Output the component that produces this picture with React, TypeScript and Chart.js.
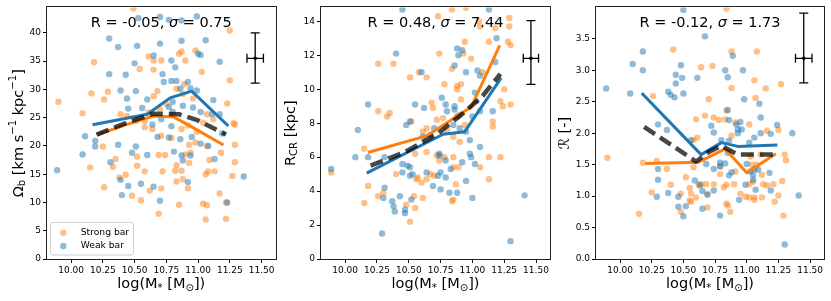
import React, { useEffect, useRef } from 'react';
import { Chart, registerables } from 'chart.js';
Chart.register(...registerables);

const FONT = "'DejaVu Sans', 'Liberation Sans', sans-serif";
const ORANGE = '#ff7f0e';
const BLUE = '#1f77b4';
const ORANGE_A = 'rgba(255,127,14,0.5)';
const BLUE_A = 'rgba(31,119,180,0.5)';

// ---------- tick values / labels ----------
const xTickValues = [10, 10.25, 10.5, 10.75, 11, 11.25, 11.5];
const xTickLabels = ['10.00', '10.25', '10.50', '10.75', '11.00', '11.25', '11.50'];
const omegaTickValues = [0, 5, 10, 15, 20, 25, 30, 35, 40];
const omegaTickLabels = ['0', '5', '10', '15', '20', '25', '30', '35', '40'];
const rcrTickValues = [0, 2, 4, 6, 8, 10, 12, 14];
const rcrTickLabels = ['0', '2', '4', '6', '8', '10', '12', '14'];
const ratioTickValues = [0, 0.5, 1, 1.5, 2, 2.5, 3, 3.5];
const ratioTickLabels = ['0.0', '0.5', '1.0', '1.5', '2.0', '2.5', '3.0', '3.5'];

const legendLabels = ['Strong bar', 'Weak bar'];

// ---------- panel 1 : Omega_b ----------
const omegaStrong: [number, number][] = [
  [9.90, 27.8], [10.18, 34.8], [10.16, 29.3], [10.09, 25.8], [10.26, 28.2], [10.29, 29.6], [10.39, 25.6],
  [10.54, 33.6], [10.61, 35.8], [10.65, 35.1], [10.65, 33.5], [10.71, 35.1], [10.85, 36.3], [10.87, 36.7],
  [10.90, 35.1], [10.98, 36.9], [11.03, 33.1], [11.25, 40.4], [11.25, 31.6], [11.23, 27.5], [10.89, 30.9],
  [10.83, 30.1], [10.88, 29.2], [10.96, 28.4], [10.68, 29.7], [10.65, 28.8], [10.75, 27.4], [10.70, 26.5],
  [10.61, 25.9], [10.58, 24.4], [10.58, 23.3], [10.64, 23.0], [10.51, 24.4], [10.44, 25.3], [10.92, 23.6],
  [10.87, 23.0], [10.71, 21.8], [10.79, 21.4], [10.99, 22.5], [11.07, 25.6], [11.04, 24.1], [11.12, 24.7],
  [11.28, 24.0], [11.29, 23.8], [11.29, 20.2], [10.25, 19.9], [10.93, 20.2], [10.98, 20.6], [11.07, 20.0],
  [10.49, 44.3],
  [10.15, 16.2], [10.26, 12.7], [10.33, 16.3], [10.35, 17.7], [10.38, 14.4], [10.43, 14.9], [10.48, 11.2],
  [10.52, 16.5], [10.52, 18.1], [10.55, 10.4], [10.58, 15.5], [10.62, 12.1], [10.69, 18.4], [10.71, 12.5],
  [10.69, 8.0], [10.72, 15.5], [10.74, 18.4], [10.82, 15.6], [10.83, 16.6], [10.83, 13.7], [10.85, 9.6],
  [10.87, 15.6], [10.88, 14.1], [10.90, 18.5], [10.92, 12.5], [10.93, 17.0], [10.94, 18.8], [11.04, 9.8],
  [11.06, 15.0], [11.07, 9.5], [11.06, 7.0], [11.08, 15.5], [11.09, 17.5], [11.13, 15.5], [11.17, 11.6],
  [11.18, 18.8], [11.22, 10.0], [11.22, 7.1], [11.27, 14.7], [11.29, 17.1],
];
const omegaWeak: [number, number][] = [
  [10.30, 39.0], [10.37, 37.5], [10.52, 37.7], [10.53, 42.6], [10.70, 42.8], [10.77, 42.3], [10.87, 42.2],
  [10.99, 42.9], [10.70, 38.1], [10.87, 38.6], [11.06, 38.7], [11.00, 36.3], [11.02, 36.1], [10.50, 34.6],
  [10.65, 36.0], [10.79, 35.1], [10.82, 33.9], [11.17, 34.9], [10.30, 32.7], [10.43, 32.6], [10.72, 32.7],
  [10.39, 29.8], [10.51, 29.7], [10.73, 31.3], [10.79, 31.5], [10.83, 31.5], [10.92, 31.3], [10.86, 30.1],
  [10.94, 30.2], [10.99, 29.8], [10.44, 28.4], [10.60, 28.2], [10.45, 26.6], [10.56, 26.7], [10.77, 26.9],
  [10.80, 27.8], [10.80, 26.0], [10.88, 27.1], [10.96, 26.8], [11.12, 28.1], [11.02, 26.0], [11.11, 25.6],
  [11.17, 25.6], [10.71, 24.7], [10.64, 23.8], [10.79, 23.5], [10.11, 21.7], [10.19, 20.9], [10.19, 19.9],
  [10.37, 20.2], [10.51, 19.9], [10.68, 21.6], [10.77, 21.5], [10.86, 21.2], [10.95, 21.6], [11.02, 20.4],
  [11.08, 20.0], [11.19, 22.2],
  [9.89, 15.7], [10.09, 18.5], [10.31, 17.1], [10.39, 14.0], [10.40, 11.3], [10.45, 12.9], [10.48, 18.8],
  [10.55, 13.3], [10.60, 18.4], [10.65, 12.8], [10.70, 10.3], [10.81, 19.0], [10.87, 18.3], [10.88, 17.4],
  [10.92, 13.6], [10.94, 18.3], [11.13, 17.7], [11.23, 10.0], [11.36, 14.6],
];
const omegaWeakMedian: [number, number][] = [[10.18, 23.8], [10.60, 25.6], [10.78, 28.5], [10.95, 29.7], [11.23, 23.7]];
const omegaStrongMedian: [number, number][] = [[10.22, 22.1], [10.44, 23.8], [10.65, 25.3], [10.81, 25.1], [10.94, 23.5], [11.19, 20.3]];
const omegaAllMedian: [number, number][] = [[10.20, 22.0], [10.45, 24.2], [10.65, 25.7], [10.85, 25.6], [11.00, 24.5], [11.22, 22.0]];
// [x, y, xerr, yerr up, yerr down]
const omegaErrorBar = [11.45, 35.5, 0.065, 4.5, 4.4];

// ---------- panel 2 : R_CR ----------
const rcrStrong: [number, number][] = [
  [10.15, 6.5], [10.26, 11.5], [10.26, 8.7], [10.33, 8.4], [10.35, 8.6], [10.38, 11.5], [10.52, 8.1],
  [10.58, 11.0], [10.64, 10.7], [10.51, 10.7], [10.61, 7.5], [10.64, 7.7], [10.68, 9.2], [10.69, 8.9],
  [10.72, 8.2], [10.73, 14.3], [10.74, 12.1], [10.77, 8.3], [10.78, 10.3], [10.80, 7.6], [10.84, 14.7],
  [10.84, 11.2], [10.88, 10.2], [10.88, 10.0], [10.91, 10.3], [10.91, 9.4], [10.93, 12.1], [10.94, 12.8],
  [10.99, 11.8], [10.94, 7.9], [10.90, 8.5], [10.85, 7.2], [10.90, 6.9], [11.05, 14.0], [11.06, 13.7],
  [11.08, 11.0], [11.13, 12.8], [11.18, 13.6], [11.29, 14.2], [11.29, 13.7], [11.28, 12.8], [11.30, 12.6],
  [11.25, 10.0], [11.22, 9.3], [11.24, 9.0], [11.30, 9.1], [11.16, 8.1], [11.16, 7.8], [10.95, 14.8],
  [9.89, 5.1], [10.15, 3.3], [10.18, 4.3], [10.26, 3.7], [10.30, 3.9], [10.40, 5.0], [10.48, 3.2],
  [10.51, 2.2], [10.54, 3.7], [10.55, 3.0], [10.55, 6.2], [10.56, 4.7], [10.57, 4.8], [10.60, 4.5],
  [10.61, 3.6], [10.64, 6.3], [10.64, 4.7], [10.67, 5.0], [10.70, 4.9], [10.72, 6.1], [10.74, 5.8],
  [10.78, 6.0], [10.85, 6.0], [10.84, 3.4], [10.85, 3.5], [10.87, 4.4], [10.89, 5.4], [10.85, 5.4],
  [11.06, 5.4], [11.13, 6.0], [11.13, 4.7], [11.22, 6.0],
];
const rcrWeak: [number, number][] = [
  [10.10, 7.6], [10.18, 9.1], [10.40, 12.1], [10.48, 7.9], [10.51, 8.1], [10.55, 9.1], [10.60, 11.0],
  [10.62, 8.9], [10.76, 9.5], [10.79, 9.1], [10.80, 8.7], [10.86, 9.0], [10.86, 8.8], [10.88, 12.4],
  [10.89, 12.0], [10.92, 12.3], [10.86, 11.4], [10.95, 11.0], [10.45, 14.7], [11.13, 14.7], [11.04, 11.1],
  [11.06, 10.8], [11.02, 9.8], [11.03, 9.3], [11.06, 8.7], [11.19, 13.0], [11.18, 11.6], [11.00, 8.4],
  [10.88, 8.4], [10.70, 7.7], [10.85, 7.9], [10.90, 7.7], [10.95, 7.5], [10.67, 7.3], [10.61, 7.2],
  [10.98, 7.0], [11.06, 6.6], [11.16, 8.7],
  [9.89, 5.3], [10.08, 6.0], [10.18, 6.0], [10.29, 1.5], [10.31, 6.0], [10.31, 4.2], [10.30, 3.6],
  [10.37, 3.4], [10.38, 3.1], [10.39, 2.8], [10.43, 3.7], [10.45, 5.6], [10.45, 5.1], [10.47, 2.7],
  [10.47, 2.9], [10.49, 5.5], [10.51, 5.4], [10.51, 4.9], [10.53, 5.0], [10.52, 3.5], [10.64, 5.1],
  [10.69, 4.3], [10.73, 4.9], [10.74, 6.2], [10.74, 6.1], [10.75, 4.1], [10.75, 5.1], [10.79, 5.8],
  [10.79, 4.8], [10.82, 3.9], [10.83, 5.3], [10.88, 3.9], [10.92, 5.7], [10.95, 4.6], [10.98, 6.2],
  [10.99, 6.0], [11.02, 5.6], [11.00, 3.6], [11.30, 1.05], [11.41, 3.75],
];
const rcrWeakMedian: [number, number][] = [[10.18, 5.1], [10.77, 7.35], [10.94, 7.5], [11.22, 10.6]];
const rcrStrongMedian: [number, number][] = [[10.19, 6.3], [10.64, 7.25], [10.99, 8.95], [11.21, 12.5]];
const rcrAllMedian: [number, number][] = [[10.20, 5.5], [10.47, 6.3], [10.73, 7.4], [10.93, 8.6], [11.08, 9.6], [11.22, 10.9]];
const rcrErrorBar = [11.46, 11.82, 0.06, 2.22, 1.53];

// ---------- panel 3 : ratio R ----------
const ratioStrong: [number, number][] = [
  [10.26, 2.59], [10.42, 3.33], [10.64, 3.05], [10.73, 3.07], [10.84, 3.98], [10.88, 3.30], [10.88, 2.72],
  [11.08, 3.30], [11.06, 2.84], [11.07, 2.56], [11.15, 2.71], [11.27, 2.78], [10.70, 2.54], [10.67, 2.28],
  [10.74, 2.25], [10.78, 2.21], [10.83, 2.22], [10.84, 2.36], [10.60, 2.22], [10.61, 1.93], [10.58, 1.89],
  [10.91, 2.17], [11.02, 2.14], [11.16, 2.04], [11.25, 2.05], [10.88, 1.96],
  [9.90, 1.61], [10.15, 0.72], [10.18, 1.53], [10.25, 1.06], [10.29, 1.56], [10.37, 1.43], [10.40, 1.18],
  [10.48, 1.04], [10.48, 0.75], [10.52, 1.30], [10.55, 0.93], [10.55, 1.13], [10.56, 1.04], [10.56, 0.91],
  [10.60, 0.98], [10.62, 1.19], [10.58, 1.46], [10.64, 1.19], [10.68, 1.19], [10.69, 1.04], [10.69, 0.82],
  [10.74, 1.19], [10.79, 1.35], [10.79, 1.48], [10.82, 1.14], [10.84, 1.18], [10.84, 0.88], [10.85, 0.85],
  [10.87, 0.75], [10.90, 1.19], [10.91, 1.39], [10.95, 1.04], [10.99, 0.99], [11.02, 1.19], [11.02, 0.98],
  [11.06, 0.94], [11.04, 1.50], [11.03, 1.63], [11.08, 1.50], [11.06, 0.98], [11.05, 1.23], [11.11, 1.66],
  [11.12, 1.34], [11.13, 1.19], [11.12, 0.98], [11.16, 1.17], [11.21, 1.19], [11.22, 0.91], [11.25, 1.01],
  [11.29, 0.69], [11.28, 1.24], [11.30, 1.66], [11.31, 1.57],
];
const ratioWeak: [number, number][] = [
  [9.89, 2.71], [10.08, 2.63], [10.10, 3.10], [10.18, 3.30], [10.18, 3.00], [10.50, 3.96], [10.67, 3.54],
  [10.48, 3.08], [10.44, 2.93], [10.49, 2.88], [10.44, 2.79], [10.50, 2.63], [10.38, 2.66], [10.40, 2.61],
  [10.43, 2.57], [10.61, 2.88], [10.83, 3.00], [10.89, 3.23], [10.85, 2.89], [10.97, 3.00], [10.98, 2.54],
  [11.10, 2.47], [11.11, 2.25], [10.85, 2.37], [10.86, 2.21], [10.72, 2.12], [10.92, 2.14], [10.95, 2.18],
  [10.93, 2.06], [10.96, 2.06], [10.74, 2.01], [10.93, 2.00], [11.06, 1.93], [11.11, 2.00], [11.24, 2.13],
  [11.36, 2.00], [10.30, 2.14], [10.37, 2.05], [10.56, 1.89], [10.80, 1.89], [10.86, 1.88], [11.02, 1.85],
  [11.19, 1.99],
  [10.30, 1.43], [10.30, 1.26], [10.29, 0.99], [10.38, 1.05], [10.46, 0.99], [10.46, 0.83], [10.50, 0.68],
  [10.52, 0.84], [10.59, 1.25], [10.63, 1.17], [10.65, 1.08], [10.65, 0.80], [10.69, 1.02], [10.74, 1.09],
  [10.74, 1.43], [10.68, 1.51], [10.79, 1.53], [10.79, 1.47], [10.83, 1.52], [10.79, 0.69], [10.86, 1.33],
  [10.88, 1.38], [10.94, 0.94], [10.99, 1.18], [11.00, 1.51], [11.03, 1.39], [11.05, 1.34], [11.05, 1.26],
  [11.06, 1.43], [11.09, 1.42], [11.07, 1.10], [11.18, 1.37], [11.19, 1.09], [11.41, 1.01], [11.30, 0.23],
  [10.85, 1.69],
];
const ratioWeakMedian: [number, number][] = [[10.18, 2.62], [10.64, 1.66], [10.80, 1.85], [10.93, 1.79], [11.23, 1.81]];
const ratioStrongMedian: [number, number][] = [[10.21, 1.52], [10.62, 1.54], [10.83, 1.75], [11.00, 1.37], [11.22, 1.66]];
const ratioAllMedian: [number, number][] = [[10.19, 2.10], [10.60, 1.55], [10.70, 1.70], [10.80, 1.80], [10.93, 1.66], [11.22, 1.66]];
const ratioErrorBar = [11.45, 3.19, 0.065, 0.72, 0.39];

// ---------- rich text helper ----------
type Seg = { t: string; k?: 'sub' | 'sup' | 'it' };
function drawRich(ctx: CanvasRenderingContext2D, segs: Seg[], x: number, y: number, size: number, angle: number) {
  const fontFor = (k?: string) =>
    k === 'sub' || k === 'sup' ? `${size * 0.7}px ${FONT}` : k === 'it' ? `italic ${size}px ${FONT}` : `${size}px ${FONT}`;
  ctx.save();
  ctx.translate(x, y);
  ctx.rotate(angle);
  let w = 0;
  for (const s of segs) { ctx.font = fontFor(s.k); w += ctx.measureText(s.t).width; }
  let cx = -w / 2;
  ctx.textAlign = 'left';
  ctx.textBaseline = 'alphabetic';
  ctx.fillStyle = '#000';
  for (const s of segs) {
    ctx.font = fontFor(s.k);
    const dy = s.k === 'sub' ? size * 0.2 : s.k === 'sup' ? -size * 0.42 : 0;
    ctx.fillText(s.t, cx, dy);
    cx += ctx.measureText(s.t).width;
  }
  ctx.restore();
}

type Panel = {
  left: number; width: number; axisW: number; padRight: number;
  yMax: number; yTicks: number[]; yLabels: string[];
  strong: [number, number][]; weak: [number, number][];
  medWeak: [number, number][]; medStrong: [number, number][]; medAll: [number, number][];
  err: number[]; stat: Seg[]; ylabel: Seg[]; ylabelX: number; legend: boolean;
};

const xlabel: Seg[] = [{ t: 'log(M' }, { t: '*', k: 'sub' }, { t: ' [M' }, { t: '\u2299', k: 'sub' }, { t: '])' }];

const panels: Panel[] = [
  {
    left: 0, width: 280, axisW: 47, padRight: 4.5, yMax: 44.5, yTicks: omegaTickValues, yLabels: omegaTickLabels,
    strong: omegaStrong, weak: omegaWeak, medWeak: omegaWeakMedian, medStrong: omegaStrongMedian, medAll: omegaAllMedian,
    err: omegaErrorBar,
    stat: [{ t: 'R = -0.05, ' }, { t: '\u03c3', k: 'it' }, { t: ' = 0.75' }],
    ylabel: [{ t: '\u03a9' }, { t: 'b', k: 'sub' }, { t: ' [km s' }, { t: '\u22121', k: 'sup' }, { t: ' kpc' }, { t: '\u22121', k: 'sup' }, { t: ']' }],
    ylabelX: 22.5, legend: true,
  },
  {
    left: 280, width: 276, axisW: 41, padRight: 6, yMax: 14.82, yTicks: rcrTickValues, yLabels: rcrTickLabels,
    strong: rcrStrong, weak: rcrWeak, medWeak: rcrWeakMedian, medStrong: rcrStrongMedian, medAll: rcrAllMedian,
    err: rcrErrorBar,
    stat: [{ t: 'R = 0.48, ' }, { t: '\u03c3', k: 'it' }, { t: ' = 7.44' }],
    ylabel: [{ t: 'R' }, { t: 'CR', k: 'sub' }, { t: ' [kpc]' }],
    ylabelX: 14.5, legend: false,
  },
  {
    left: 556, width: 275, axisW: 40, padRight: 7, yMax: 4.0, yTicks: ratioTickValues, yLabels: ratioTickLabels,
    strong: ratioStrong, weak: ratioWeak, medWeak: ratioWeakMedian, medStrong: ratioStrongMedian, medAll: ratioAllMedian,
    err: ratioErrorBar,
    stat: [{ t: 'R = -0.12, ' }, { t: '\u03c3', k: 'it' }, { t: ' = 1.73' }],
    ylabel: [{ t: '\u211b [-]' }],
    ylabelX: 12.5, legend: false,
  },
];

const toPts = (a: [number, number][]) => a.map(([x, y]) => ({ x, y }));

function makeConfig(p: Panel): any {
  const overlay = {
    id: 'overlay',
    afterDatasetsDraw(chart: any) {
      const ctx: CanvasRenderingContext2D = chart.ctx;
      const { left, right } = chart.chartArea;
      const xs = chart.scales.x, ys = chart.scales.y;
      // error bar
      const [ex, ey, exe, eyu, eyd] = p.err;
      const px = xs.getPixelForValue(ex), py = ys.getPixelForValue(ey);
      const pxl = xs.getPixelForValue(ex - exe), pxr = xs.getPixelForValue(ex + exe);
      const pyt = ys.getPixelForValue(ey + eyu), pyb = ys.getPixelForValue(ey - eyd);
      ctx.save();
      ctx.strokeStyle = '#000';
      ctx.lineWidth = 1.3;
      ctx.beginPath();
      ctx.moveTo(pxl, py); ctx.lineTo(pxr, py);
      ctx.moveTo(px, pyt); ctx.lineTo(px, pyb);
      ctx.moveTo(px - 4.5, pyt); ctx.lineTo(px + 4.5, pyt);
      ctx.moveTo(px - 4.5, pyb); ctx.lineTo(px + 4.5, pyb);
      ctx.moveTo(pxl, py - 4.5); ctx.lineTo(pxl, py + 4.5);
      ctx.moveTo(pxr, py - 4.5); ctx.lineTo(pxr, py + 4.5);
      ctx.stroke();
      ctx.fillStyle = '#000';
      ctx.beginPath(); ctx.arc(px, py, 1.8, 0, Math.PI * 2); ctx.fill();
      ctx.restore();
      // statistic text
      drawRich(ctx, p.stat, (left + right) / 2, 26.5, 14.5, 0);
      // legend
      if (p.legend) {
        ctx.save();
        const bx = 50.5, by = 222.5, bw = 83, bh = 32.5, r = 2.5;
        ctx.beginPath();
        ctx.moveTo(bx + r, by); ctx.lineTo(bx + bw - r, by); ctx.quadraticCurveTo(bx + bw, by, bx + bw, by + r);
        ctx.lineTo(bx + bw, by + bh - r); ctx.quadraticCurveTo(bx + bw, by + bh, bx + bw - r, by + bh);
        ctx.lineTo(bx + r, by + bh); ctx.quadraticCurveTo(bx, by + bh, bx, by + bh - r);
        ctx.lineTo(bx, by + r); ctx.quadraticCurveTo(bx, by, bx + r, by);
        ctx.closePath();
        ctx.fillStyle = 'rgba(255,255,255,0.8)';
        ctx.fill();
        ctx.strokeStyle = '#d0d0d0';
        ctx.lineWidth = 1;
        ctx.stroke();
        const rows: [string, string, number][] = [[legendLabels[0], ORANGE_A, 232.7], [legendLabels[1], BLUE_A, 246]];
        for (const [txt, col, yy] of rows) {
          ctx.fillStyle = col;
          ctx.beginPath(); ctx.arc(63.3, yy, 3.2, 0, Math.PI * 2); ctx.fill();
          ctx.fillStyle = '#000';
          ctx.font = `9.2px ${FONT}`;
          ctx.textAlign = 'left';
          ctx.textBaseline = 'middle';
          ctx.fillText(txt, 80.7, yy);
        }
        ctx.restore();
      }
    },
    afterDraw(chart: any) {
      const ctx: CanvasRenderingContext2D = chart.ctx;
      const { left, right, top, bottom } = chart.chartArea;
      ctx.save();
      ctx.strokeStyle = '#222';
      ctx.lineWidth = 1;
      ctx.strokeRect(Math.round(left) - 0.5, Math.round(top) - 0.5, Math.round(right - left) + 1, Math.round(bottom - top) + 1);
      ctx.restore();
      drawRich(ctx, xlabel, (left + right) / 2, 288, 14.5, 0);
      drawRich(ctx, p.ylabel, p.ylabelX, (top + bottom) / 2, 14.5, -Math.PI / 2);
    },
  };

  const tickFont = { family: FONT, size: 9 };
  const gridCfg = { display: true, drawOnChartArea: false, drawTicks: true, tickLength: 4, tickColor: '#000', tickWidth: 1 };

  return {
    type: 'scatter',
    data: {
      datasets: [
        { label: 'Strong bar', data: toPts(p.strong), pointRadius: 3.2, pointHoverRadius: 3.2, pointBackgroundColor: ORANGE_A, pointBorderWidth: 0, showLine: false, order: 6 },
        { label: 'Weak bar', data: toPts(p.weak), pointRadius: 3.2, pointHoverRadius: 3.2, pointBackgroundColor: BLUE_A, pointBorderWidth: 0, showLine: false, order: 5 },
        { label: 'weak median', data: toPts(p.medWeak), showLine: true, borderColor: BLUE, borderWidth: 3, pointRadius: 0, borderCapStyle: 'square', borderJoinStyle: 'round', order: 3 },
        { label: 'strong median', data: toPts(p.medStrong), showLine: true, borderColor: ORANGE, borderWidth: 3, pointRadius: 0, borderCapStyle: 'square', borderJoinStyle: 'round', order: 2 },
        { label: 'all median', data: toPts(p.medAll), showLine: true, borderColor: 'rgba(0,0,0,0.72)', borderWidth: 4.5, borderDash: [13, 6], pointRadius: 0, borderCapStyle: 'butt', borderJoinStyle: 'round', order: 1 },
      ],
    },
    options: {
      animation: false,
      responsive: false,
      maintainAspectRatio: false,
      events: [],
      layout: { padding: { left: 0, right: p.padRight, top: 6, bottom: 0 } },
      plugins: { legend: { display: false }, tooltip: { enabled: false }, title: { display: false } },
      scales: {
        x: {
          type: 'linear', min: 9.81, max: 11.61,
          afterBuildTicks: (s: any) => { s.ticks = xTickValues.map((v) => ({ value: v })); },
          afterFit: (s: any) => { s.height = 42; },
          ticks: { callback: (_v: any, i: number) => xTickLabels[i], font: tickFont, color: '#000', padding: 2, maxRotation: 0, autoSkip: false },
          grid: gridCfg,
          border: { display: false },
        },
        y: {
          type: 'linear', min: 0, max: p.yMax,
          afterBuildTicks: (s: any) => { s.ticks = p.yTicks.map((v) => ({ value: v })); },
          afterFit: (s: any) => { s.width = p.axisW; },
          ticks: { callback: (_v: any, i: number) => p.yLabels[i], font: tickFont, color: '#000', padding: 2, autoSkip: false },
          grid: gridCfg,
          border: { display: false },
        },
      },
    },
    plugins: [overlay],
  };
}

function PanelChart({ p }: { p: Panel }) {
  const ref = useRef<HTMLCanvasElement>(null);
  useEffect(() => {
    const chart = new Chart(ref.current as HTMLCanvasElement, makeConfig(p));
    return () => chart.destroy();
  }, []);
  return (
    <canvas
      ref={ref}
      width={p.width}
      height={301}
      style={{ position: 'absolute', left: p.left, top: 0, width: p.width, height: 301 }}
    />
  );
}

export default function App() {
  return (
    <div style={{ position: 'fixed', left: 0, top: 0, width: 831, height: 301, background: '#fff', overflow: 'hidden' }}>
      {panels.map((p, i) => (
        <PanelChart key={i} p={p} />
      ))}
    </div>
  );
}
